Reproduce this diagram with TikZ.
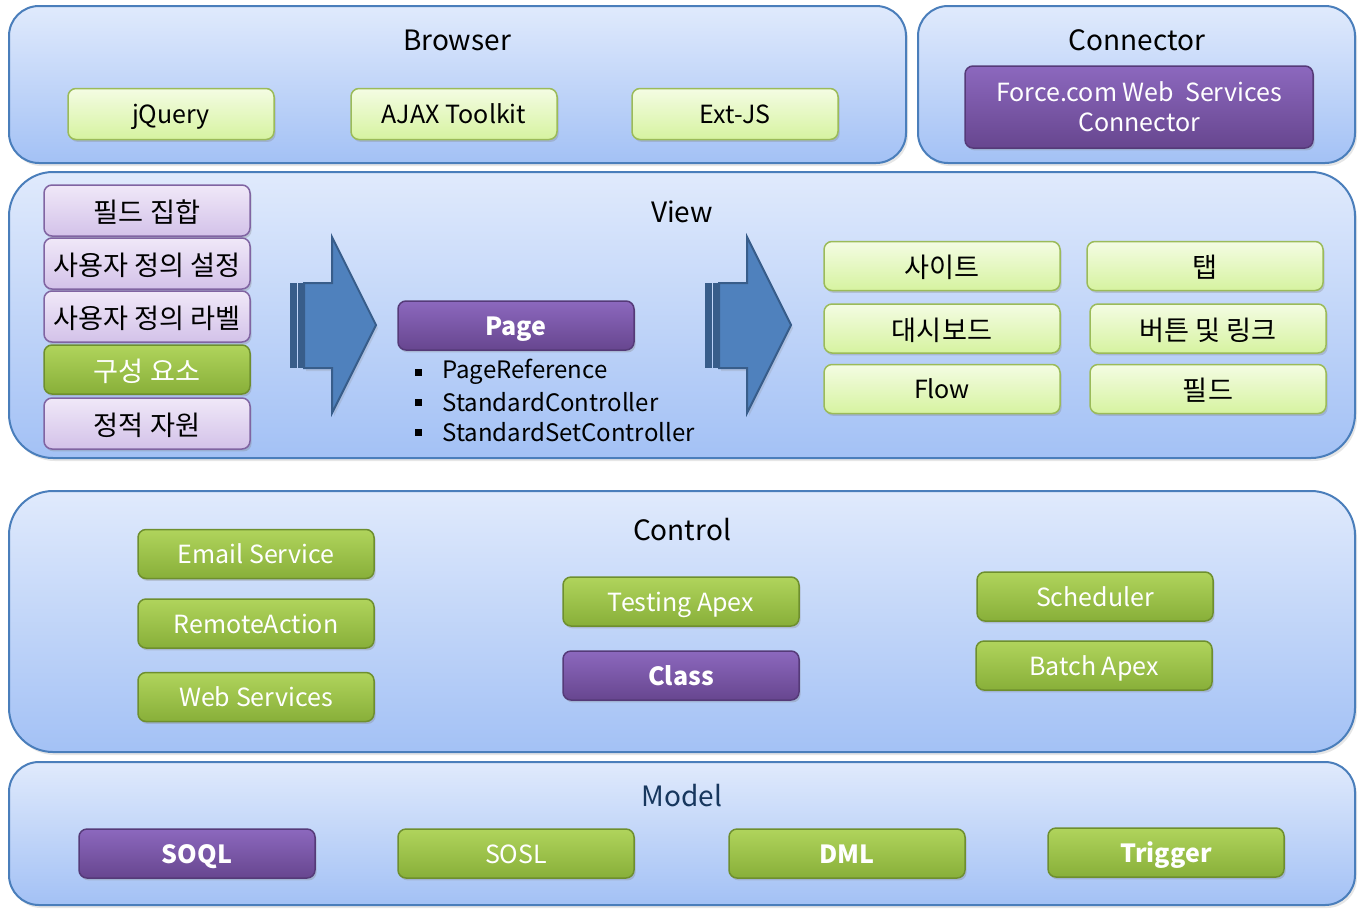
\documentclass[tikz,border=0pt]{standalone}
\usepackage{fontspec}
\setmainfont{Noto Sans CJK KR}
\usetikzlibrary{shadows, fit}

\definecolor{panelTop}{HTML}{E0EAFC}
\definecolor{panelBot}{HTML}{A3C1F5}
\definecolor{panelEdge}{HTML}{4A7EBB}
\definecolor{lgTop}{HTML}{F4FCE3}
\definecolor{lgBot}{HTML}{D6F3A0}
\definecolor{lgEdge}{HTML}{9BBB59}
\definecolor{lpTop}{HTML}{F0E8F8}
\definecolor{lpBot}{HTML}{D3C2E9}
\definecolor{lpEdge}{HTML}{8064A2}
\definecolor{sgTop}{HTML}{B0D45C}
\definecolor{sgBot}{HTML}{88AF39}
\definecolor{sgEdge}{HTML}{6E8F2E}
\definecolor{spTop}{HTML}{8C68BE}
\definecolor{spBot}{HTML}{67468F}
\definecolor{spEdge}{HTML}{553A78}
\definecolor{arrFill}{HTML}{4F81BD}
\definecolor{arrEdge}{HTML}{385D8A}
\definecolor{modelText}{HTML}{17375E}

\begin{document}
\begin{tikzpicture}[x=0.5pt, y=-0.5pt,
  panel/.style={draw=panelEdge, line width=1pt, rounded corners=#1, inner sep=0pt,
    top color=panelTop, bottom color=panelBot,
    drop shadow={opacity=0.2, shadow xshift=1pt, shadow yshift=-1.5pt}},
  title/.style={font=\fontsize{14}{17}\selectfont, text=black},
  box/.style={rounded corners=4pt, line width=0.75pt, align=center,
    minimum width=118pt, minimum height=24.5pt, inner sep=0pt,
    text height=12.5pt, text depth=3pt,
    font=\fontsize{12.5}{15}\selectfont,
    drop shadow={opacity=0.3, shadow xshift=0.8pt, shadow yshift=-1.2pt}},
  small/.style={minimum width=103pt, minimum height=25.5pt},
  kr/.style={font=\fontsize{13.6}{16}\selectfont, text height=14.5pt},
  lgbox/.style={box, draw=lgEdge, top color=lgTop, bottom color=lgBot},
  lpbox/.style={box, small, kr, draw=lpEdge, top color=lpTop, bottom color=lpBot},
  sgbox/.style={box, draw=sgEdge, top color=sgTop, bottom color=sgBot, text=white},
  spbox/.style={box, draw=spEdge, top color=spTop, bottom color=spBot, text=white},
  strong/.style={font=\fontsize{12.5}{15}\selectfont\bfseries},
  item/.style={anchor=west, inner sep=0pt, font=\fontsize{12}{14}\selectfont}]

\useasboundingbox (0,0) rectangle (1364,916);

% layers
\node[panel=15pt, fit={(9,6) (906,163)}] (browser) {};
\node[panel=15pt, fit={(918,6) (1355,163)}] (connector) {};
\node[panel=22pt, fit={(9,172) (1355,458)}] (view) {};
\node[panel=22pt, fit={(9,491) (1355,752)}] (control) {};
\node[panel=15pt, fit={(9,762) (1355,905)}] (model) {};

\node[title] (browserT) at (457,40) {Browser};
\node[title] (connectorT) at (1137,40) {Connector};
\node[title] (viewT) at (682,212) {View};
\node[title] (controlT) at (682,530) {Control};
\node[title, text=modelText] (modelT) at (682,796) {Model};

% browser
\node[lgbox, small] (jquery) at (171,114) {jQuery};
\node[lgbox, small] (ajax) at (454,114) {AJAX Toolkit};
\node[lgbox, small] (extjs) at (735,114) {Ext-JS};

% connector
\node[spbox, minimum width=174pt, minimum height=41pt, text height=, text depth=] (wsc) at (1139,107) {Force.com Web\ \ Services\\Connector};

% view
\node[lpbox] (fieldset) at (147,210.5) {필드 집합};
\node[lpbox] (customset) at (147,263.5) {사용자 정의 설정};
\node[lpbox] (customlabel) at (147,316.5) {사용자 정의 라벨};
\node[sgbox, small, kr, minimum height=24.5pt] (component) at (147,369.5) {구성 요소};
\node[lpbox] (staticres) at (147,423.5) {정적 자원};

\foreach \ax in {290, 705} {
  \fill[arrEdge] (\ax,283) rectangle (\ax+7,368);
  \fill[arrEdge] (\ax+8,283) rectangle (\ax+14,368);
  \draw[arrEdge, fill=arrFill, line width=1pt,
    drop shadow={opacity=0.2, shadow xshift=1pt, shadow yshift=-1.5pt}]
    (\ax+14,283) -- (\ax+42,283) -- (\ax+42,237) -- (\ax+86,325)
    -- (\ax+42,413) -- (\ax+42,368) -- (\ax+14,368) -- cycle;
}

\node[spbox, strong] (page) at (516,325.5) {Page};
\foreach \txt [count=\i] in {PageReference, StandardController, StandardSetController} {
  \node[item] (item\i) at (442,342+30*\i) {\txt};
  \fill (414.5,338.5+30*\i) rectangle ++(7,7);
}

\node[lgbox, kr] (site) at (942,266) {사이트};
\node[lgbox, kr] (tab) at (1205,266) {탭};
\node[lgbox, kr] (dashboard) at (942,328.5) {대시보드};
\node[lgbox, kr] (buttons) at (1208,328.5) {버튼 및 링크};
\node[lgbox] (flow) at (942,389) {Flow};
\node[lgbox, kr] (field) at (1208,389) {필드};

% control
\node[sgbox] (email) at (256,554) {Email Service};
\node[sgbox] (remote) at (256,623.5) {RemoteAction};
\node[sgbox] (websvc) at (256,697) {Web Services};
\node[sgbox] (testing) at (681,601.5) {Testing Apex};
\node[spbox, strong] (class) at (681,675.5) {Class};
\node[sgbox] (scheduler) at (1095,596.5) {Scheduler};
\node[sgbox] (batch) at (1094,665.5) {Batch Apex};

% model
\node[spbox, strong] (soql) at (197,853.5) {SOQL};
\node[sgbox] (sosl) at (516,853.5) {SOSL};
\node[sgbox, strong] (dml) at (847,853.5) {DML};
\node[sgbox, strong] (trigger) at (1166,852.5) {Trigger};

\end{tikzpicture}
\end{document}
